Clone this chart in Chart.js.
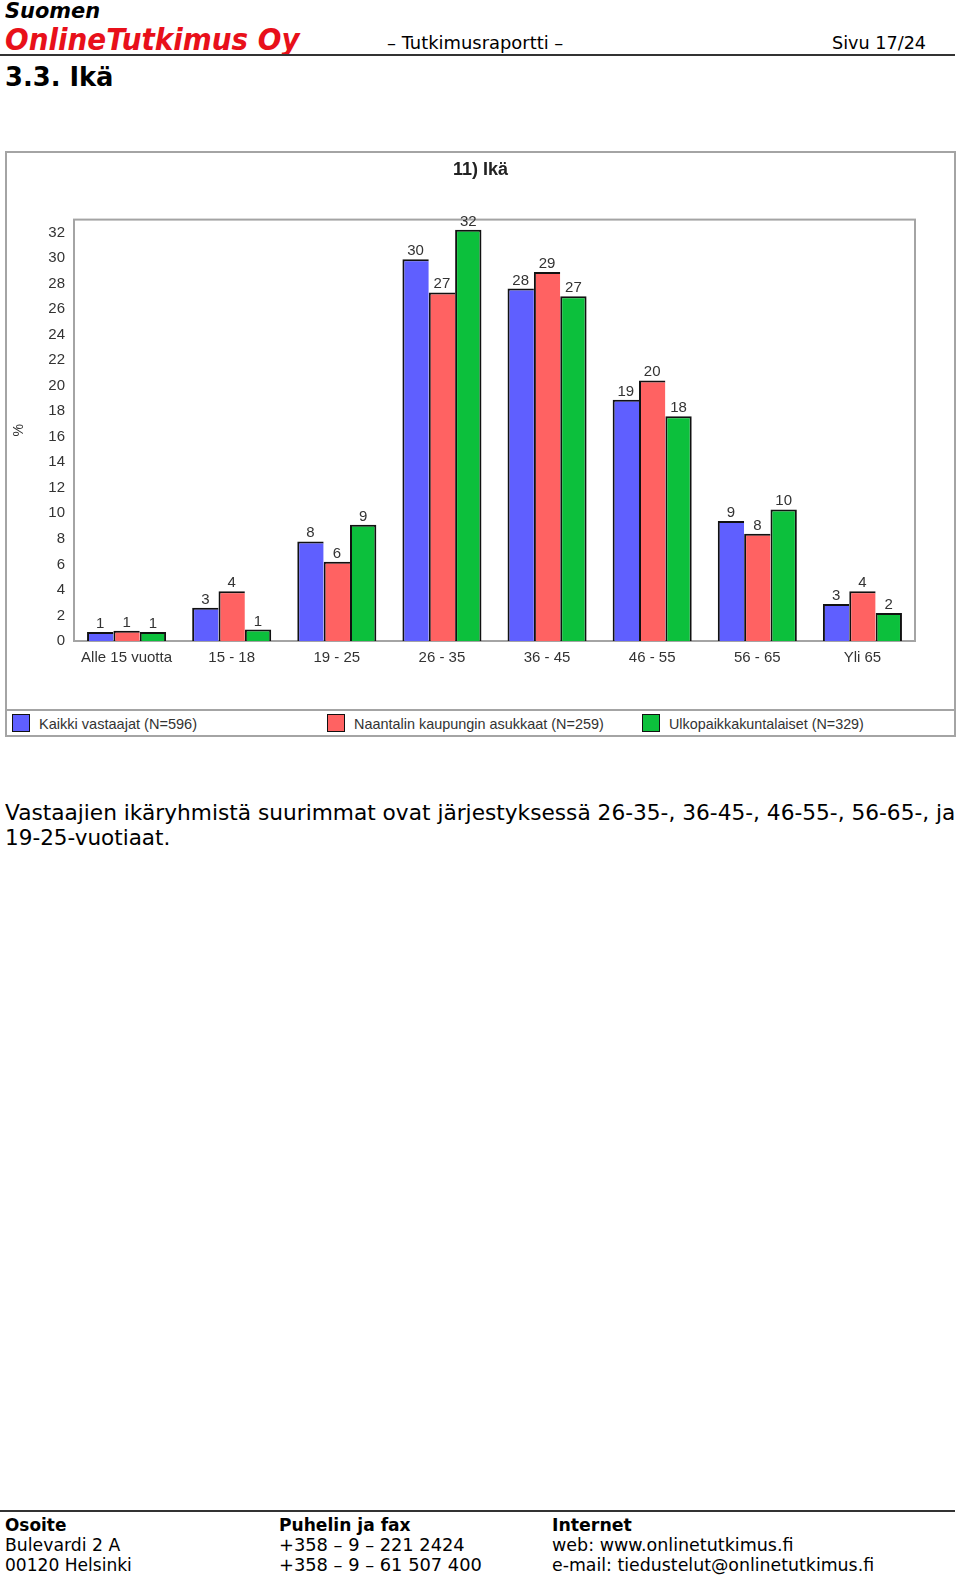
<!DOCTYPE html>
<html lang="fi">
<head>
<meta charset="utf-8">
<title>3.3. Ikä</title>
<script src="https://cdn.jsdelivr.net/npm/chart.js@4.4.1/dist/chart.umd.min.js"></script>
<style>
    html, body { margin: 0; padding: 0; background: #fff; }
    body { width: 960px; height: 1576px; position: relative; overflow: hidden; font-family: "DejaVu Sans", Verdana, sans-serif; color: #000; }
    .t { position: absolute; white-space: nowrap; line-height: 1; }
    span[data-w] { display: inline-block; transform-origin: 0 50%; white-space: nowrap; }
    .rule { position: absolute; left: 0; width: 955px; height: 2px; background: #333; }
    #chartBox { position: absolute; left: 5px; top: 151px; width: 951px; height: 586px; border: 2px solid #a4a4a4; box-sizing: border-box; }
    #chartBox canvas { display: block; }
    #legend { position: relative; height: 26px; border-top: 2px solid #a4a4a4; box-sizing: border-box; font: 15px "Liberation Sans", Arial, sans-serif; color: #333; }
    .lg { position: absolute; top: 3px; height: 19px; line-height: 19px; white-space: nowrap; }
    .lg i { display: inline-block; width: 16px; height: 16px; border: 1.5px solid #111; vertical-align: top; margin-right: 9px; }
</style>
</head>
<body>

<div class="t" style="left:5px;top:0px;font-size:22px;font-weight:bold;font-style:italic;"><span data-w="95">Suomen</span></div>
<div class="t" style="left:5px;top:25px;font-size:30px;font-weight:bold;font-style:italic;color:#e8101a;"><span data-w="295">OnlineTutkimus Oy</span></div>
<div class="t" style="left:387px;top:34px;font-size:18px;"><span data-w="176">– Tutkimusraportti –</span></div>
<div class="t" style="left:832px;top:34px;font-size:18px;"><span data-w="94">Sivu 17/24</span></div>
<div class="rule" style="top:54px;"></div>
<div class="t" style="left:5px;top:64px;font-size:26px;font-weight:bold;"><span data-w="109">3.3. Ikä</span></div>

<div id="chartBox">
    <canvas id="ageChart" width="947" height="556"></canvas>
    <div id="legend"></div>
</div>

<div class="t" style="left:5px;top:803px;font-size:21px;"><span data-w="950">Vastaajien ikäryhmistä suurimmat ovat järjestyksessä 26-35-, 36-45-, 46-55-, 56-65-, ja</span></div>
<div class="t" style="left:5px;top:828px;font-size:21px;"><span data-w="165">19-25-vuotiaat.</span></div>

<div class="rule" style="top:1510px;"></div>
<div class="t" style="left:5px;top:1516px;font-size:18px;font-weight:bold;"><span data-w="61">Osoite</span></div>
<div class="t" style="left:5px;top:1536px;font-size:18px;"><span data-w="115">Bulevardi 2 A</span></div>
<div class="t" style="left:5px;top:1556px;font-size:18px;"><span data-w="127">00120 Helsinki</span></div>
<div class="t" style="left:279px;top:1516px;font-size:18px;font-weight:bold;"><span data-w="132">Puhelin ja fax</span></div>
<div class="t" style="left:279px;top:1536px;font-size:18px;"><span data-w="186">+358 – 9 – 221 2424</span></div>
<div class="t" style="left:279px;top:1556px;font-size:18px;"><span data-w="203">+358 – 9 – 61 507 400</span></div>
<div class="t" style="left:552px;top:1516px;font-size:18px;font-weight:bold;"><span data-w="80">Internet</span></div>
<div class="t" style="left:552px;top:1536px;font-size:18px;"><span data-w="241">web: www.onlinetutkimus.fi</span></div>
<div class="t" style="left:552px;top:1556px;font-size:18px;"><span data-w="322">e-mail: tiedustelut@onlinetutkimus.fi</span></div>

<script>
// age groups and shares (%)
const categories = ['Alle 15 vuotta', '15 - 18', '19 - 25', '26 - 35', '36 - 45', '46 - 55', '56 - 65', 'Yli 65'];
const kaikki = [0.7, 2.6, 7.8, 29.9, 27.6, 18.9, 9.4, 2.9];
const naantali = [0.8, 3.9, 6.2, 27.3, 28.9, 20.4, 8.4, 3.9];
const ulkopaikka = [0.7, 0.9, 9.1, 32.2, 27.0, 17.6, 10.3, 2.2];
const seriesNames = ['Kaikki vastaajat (N=596)', 'Naantalin kaupungin asukkaat (N=259)', 'Ulkopaikkakuntalaiset (N=329)'];
const legendWidths = [158, 250, 195];
const seriesColors = ['#5f5fff', '#ff6262', '#0cc03c'];
const yMax = 33;
const yStep = 2;

const CHART_FONT = '"Liberation Sans", Arial, sans-serif';

// squeeze texts to the widths they have in the report
function fitTexts() {
    document.querySelectorAll('span[data-w]').forEach(el => {
        const target = Number(el.dataset.w);
        const w = el.offsetWidth;
        if (w > 0) el.style.transform = 'scaleX(' + (target / w).toFixed(4) + ')';
    });
}

// gray frame round the plot area
const plotFrame = {
    id: 'plotFrame',
    beforeDatasetsDraw(chart) {
        const a = chart.chartArea;
        const ctx = chart.ctx;
        ctx.save();
        ctx.strokeStyle = '#a4a4a4';
        ctx.lineWidth = 2;
        ctx.strokeRect(a.left, a.top, a.right - a.left, a.bottom - a.top);
        ctx.restore();
    }
};

// rounded value above every bar
const valueLabels = {
    id: 'valueLabels',
    afterDatasetsDraw(chart) {
        const ctx = chart.ctx;
        ctx.save();
        ctx.font = '15px ' + CHART_FONT;
        ctx.fillStyle = '#333';
        ctx.textAlign = 'center';
        ctx.textBaseline = 'alphabetic';
        chart.data.datasets.forEach((ds, i) => {
            chart.getDatasetMeta(i).data.forEach((bar, j) => {
                ctx.fillText(String(Math.round(ds.data[j])), bar.x, bar.y - 4);
            });
        });
        ctx.restore();
    }
};

function buildLegend() {
    const box = document.getElementById('legend');
    seriesNames.forEach((name, i) => {
        const item = document.createElement('div');
        item.className = 'lg';
        item.style.left = (5 + i * 315) + 'px';
        item.innerHTML = '<i style="background:' + seriesColors[i] + '"></i><span data-w="' + legendWidths[i] + '">' + name + '</span>';
        box.appendChild(item);
    });
}

function renderChart() {
    const canvas = document.getElementById('ageChart');
    const values = [kaikki, naantali, ulkopaikka];
    const datasets = values.map((data, i) => ({
        label: seriesNames[i],
        data,
        backgroundColor: seriesColors[i],
        borderColor: '#111',
        borderWidth: i === 2 ? { top: 2, left: 2, right: 2, bottom: 0 } : { top: 2, left: 2, right: 0, bottom: 0 },
        borderSkipped: false,
        categoryPercentage: 0.752,
        barPercentage: 1
    }));

    return new Chart(canvas.getContext('2d'), {
        type: 'bar',
        data: { labels: categories, datasets },
        options: {
            responsive: false,
            animation: false,
            layout: { padding: 0 },
            plugins: {
                legend: { display: false },
                tooltip: { enabled: false },
                title: {
                    display: true,
                    text: '11) Ikä',
                    color: '#222',
                    font: { family: CHART_FONT, size: 18, weight: 'bold' },
                    padding: { top: 6, bottom: 39 }
                }
            },
            scales: {
                x: {
                    grid: { display: false, drawTicks: false },
                    border: { display: false },
                    ticks: { color: '#333', font: { family: CHART_FONT, size: 15 }, padding: 8, maxRotation: 0 },
                    afterFit(scale) { scale.height = 68; }
                },
                y: {
                    min: 0,
                    max: yMax,
                    grid: { display: false, drawTicks: false },
                    border: { display: false },
                    ticks: { stepSize: yStep, includeBounds: false, color: '#333', font: { family: CHART_FONT, size: 15 }, padding: 9 },
                    title: { display: true, text: '%', color: '#333', font: { family: CHART_FONT, size: 14 }, padding: { top: 4, bottom: 0 } },
                    afterFit(scale) { scale.width = 67; }
                },
                // empty right margin so the title stays centred on the whole box
                yRight: {
                    type: 'linear',
                    position: 'right',
                    min: 0,
                    max: 1,
                    grid: { display: false, drawTicks: false },
                    border: { display: false },
                    ticks: { display: false },
                    afterFit(scale) { scale.width = 39; }
                }
            }
        },
        plugins: [plotFrame, valueLabels]
    });
}

buildLegend();
renderChart();
fitTexts();
if (document.fonts && document.fonts.ready) document.fonts.ready.then(fitTexts);
</script>
</body>
</html>
